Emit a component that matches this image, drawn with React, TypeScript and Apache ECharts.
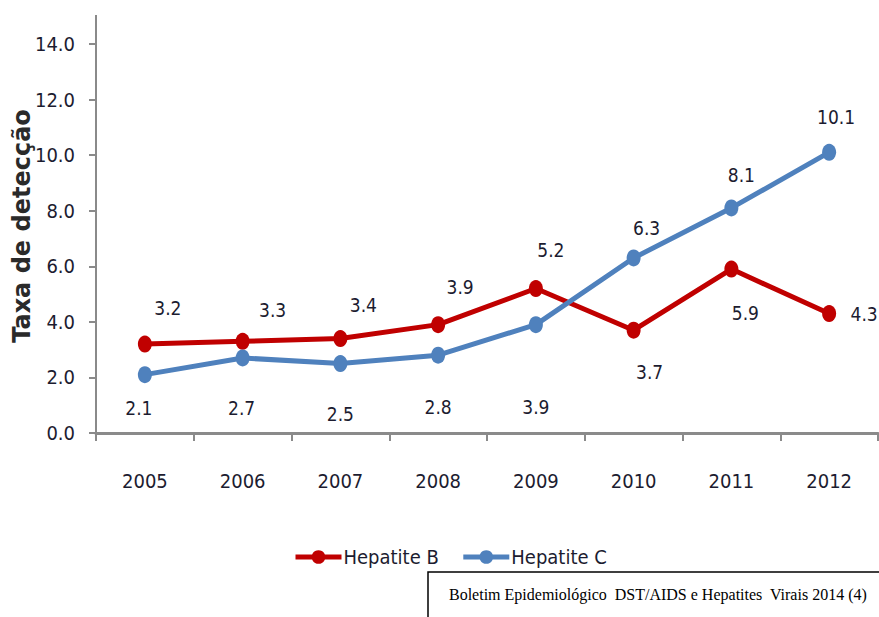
import React, { useEffect, useRef } from "react";
import * as echarts from "echarts";

const years = ["2005", "2006", "2007", "2008", "2009", "2010", "2011", "2012"];
const hepatiteB = [3.2, 3.3, 3.4, 3.9, 5.2, 3.7, 5.9, 4.3];
const hepatiteC = [2.1, 2.7, 2.5, 2.8, 3.9, 6.3, 8.1, 10.1];
const seriesNames = ["Hepatite B", "Hepatite C"];
const yTitle = "Taxa de detecção";
const sourceNote = "Boletim Epidemiológico  DST/AIDS e Hepatites  Virais 2014 (4)";

const NARROW = "'Liberation Sans Narrow', 'DejaVu Sans Condensed', 'Liberation Sans', sans-serif";
const TEXT_COLOR = "#1c1c30";

// label placement (layout only)
const offsetsB: [number, number][] = [
  [23, -36], [30, -31], [23, -34], [22, -38], [15, -39], [16, 42], [14, 44], [35, 0],
];
const offsetsC: [number, number][] = [
  [-6, 33], [-1, 50], [0, 50], [0, 52], [0, 82], [13, -30], [10, -33], [7, -35],
];

export default function App() {
  const ref = useRef<HTMLDivElement>(null);
  useEffect(() => {
    if (!ref.current) return;
    const chart = echarts.init(ref.current, undefined, { renderer: "svg" });
    const mk = (vals: number[], offs: [number, number][]) =>
      vals.map((v, i) => ({ value: v, label: { offset: offs[i] } }));
    const labelStyle = {
      show: true,
      position: "inside" as const,
      align: "center" as const,
      verticalAlign: "middle" as const,
      fontFamily: NARROW,
      fontSize: 19,
      color: TEXT_COLOR,
      formatter: (p: any) => Number(p.value).toFixed(1),
    };
    chart.setOption({
      animation: false,
      backgroundColor: "#ffffff",
      grid: { left: 96, right: 1, top: 44, bottom: 184, containLabel: false },
      xAxis: {
        type: "category",
        data: years,
        boundaryGap: true,
        axisLine: { lineStyle: { color: "#8a8a8a", width: 3 } },
        axisTick: { show: true, length: 8, lineStyle: { color: "#8a8a8a", width: 2 } },
        axisLabel: { fontFamily: NARROW, fontSize: 20, color: TEXT_COLOR, margin: 38 },
      },
      yAxis: {
        type: "value",
        min: 0,
        max: 14,
        interval: 2,
        axisLine: { show: true, lineStyle: { color: "#8a8a8a", width: 2 } },
        axisTick: { show: true, length: 7, lineStyle: { color: "#8a8a8a", width: 2 } },
        splitLine: { show: false },
        axisLabel: {
          fontFamily: NARROW,
          fontSize: 20,
          color: TEXT_COLOR,
          margin: 21,
          formatter: (v: number) => v.toFixed(1),
        },
      },
      legend: {
        data: seriesNames,
        left: 288,
        top: 542,
        itemWidth: 46,
        itemHeight: 17,
        itemGap: 22,
        lineStyle: { width: 5 },
        textStyle: { fontFamily: NARROW, fontSize: 20, color: TEXT_COLOR, padding: [0, 0, 0, -3] },
      },
      series: [
        {
          name: seriesNames[0],
          type: "line",
          data: mk(hepatiteB, offsetsB),
          color: "#c00000",
          lineStyle: { width: 5, color: "#c00000" },
          itemStyle: { color: "#c00000" },
          symbol: "circle",
          symbolSize: [14, 17],
          label: labelStyle,
          z: 3,
        },
        {
          name: seriesNames[1],
          type: "line",
          data: mk(hepatiteC, offsetsC),
          color: "#4f81bd",
          lineStyle: { width: 5, color: "#4f81bd" },
          itemStyle: { color: "#4f81bd" },
          symbol: "circle",
          symbolSize: [14, 17],
          label: labelStyle,
          z: 4,
        },
      ],
      graphic: [
        {
          type: "line",
          shape: { x1: 96, y1: 15, x2: 96, y2: 45 },
          style: { stroke: "#8a8a8a", lineWidth: 2 },
        },
        {
          type: "text",
          x: 22,
          y: 226,
          rotation: Math.PI / 2,
          style: {
            text: yTitle,
            fontFamily: "'DejaVu Sans', sans-serif",
            fontWeight: "bold",
            fontSize: 24,
            fill: "#2a2a2a",
            align: "center",
            verticalAlign: "middle",
          },
        },
        {
          type: "rect",
          shape: { x: 428, y: 572, width: 470, height: 60 },
          style: { fill: "#ffffff", stroke: "#000000", lineWidth: 1.5 },
        },
        {
          type: "text",
          x: 449,
          y: 594,
          style: {
            text: sourceNote,
            fontFamily: "'Liberation Serif', 'Times New Roman', serif",
            fontSize: 16,
            fill: "#000000",
            verticalAlign: "middle",
          },
        },
      ],
    });
    return () => chart.dispose();
  }, []);
  return <div ref={ref} style={{ width: 879, height: 617, position: "fixed", left: 0, top: 0 }} />;
}
